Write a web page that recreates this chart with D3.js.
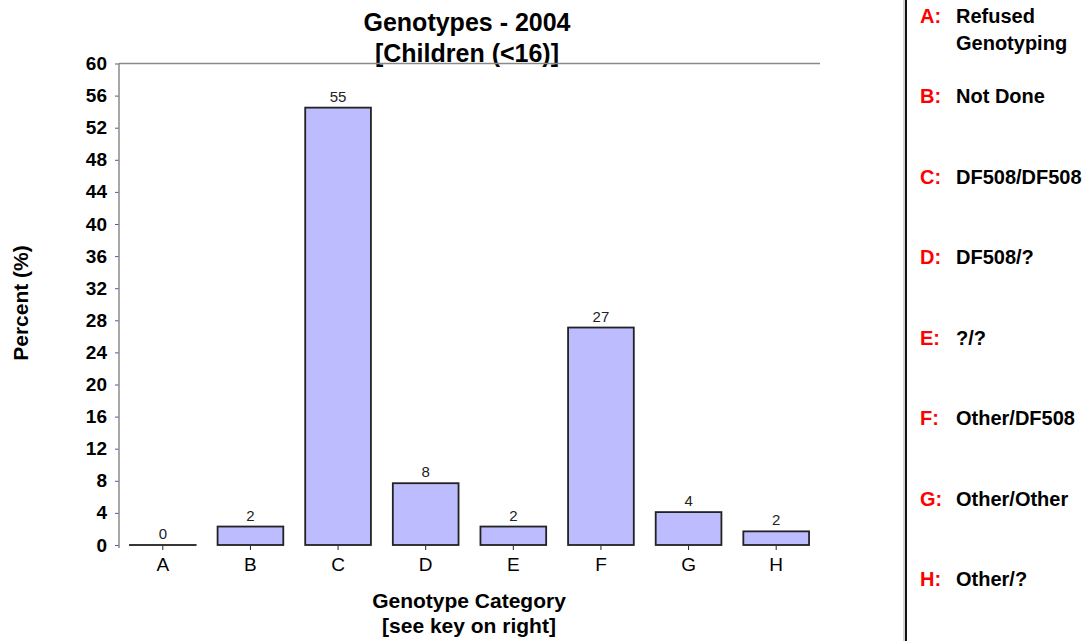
<!DOCTYPE html>
<html>
<head>
<meta charset="utf-8">
<script src="https://cdn.jsdelivr.net/npm/d3@7"></script>
<style>
  body { margin: 0; background: #fff; }
  svg { font-family: "Liberation Sans", Arial, sans-serif; }
</style>
</head>
<body>
<svg id="chart" width="1092" height="641"></svg>
<script>
const categories = ['A', 'B', 'C', 'D', 'E', 'F', 'G', 'H']
const percents = [0, 2.3, 54.5, 7.7, 2.3, 27.1, 4.1, 1.7]
const barLabels = ['0', '2', '55', '8', '2', '27', '4', '2']
const yTicks = [0, 4, 8, 12, 16, 20, 24, 28, 32, 36, 40, 44, 48, 52, 56, 60]
const keyText = [['Refused', 'Genotyping'], ['Not Done'], ['DF508/DF508'], ['DF508/?'],
                 ['?/?'], ['Other/DF508'], ['Other/Other'], ['Other/?']]

const svg = d3.select('#chart')
const plotLeft = 119, plotRight = 820, plotTop = 63.5, plotBottom = 545

const xScale = d3.scaleBand().domain(categories).range([plotLeft, plotRight])
    .paddingInner(0.25).paddingOuter(0.125)
const yScale = d3.scaleLinear().domain([0, 60]).range([plotBottom, plotTop])

// title
svg.append('text').attr('x', 467).attr('y', 31).attr('text-anchor', 'middle')
    .style('font-size', '25px').style('font-weight', 'bold').text('Genotypes - 2004')
svg.append('text').attr('x', 467).attr('y', 62).attr('text-anchor', 'middle')
    .style('font-size', '25px').style('font-weight', 'bold').text('[Children (<16)]')

// top frame line
svg.append('line').attr('x1', plotLeft).attr('x2', plotRight).attr('y1', plotTop).attr('y2', plotTop)
    .attr('stroke', '#8a8a8a').attr('stroke-width', 1.5)

// y axis
const yAxis = d3.axisLeft(yScale).tickValues(yTicks).tickSize(4).tickPadding(8)
const gy = svg.append('g').attr('transform', 'translate(' + plotLeft + ',0)').call(yAxis)
gy.select('.domain').remove()
gy.selectAll('.tick line').attr('stroke', '#5555aa')
gy.selectAll('.tick text').style('font-size', '19px').style('font-weight', 'bold')
    .attr('fill', '#000').attr('font-family', 'Liberation Sans, Arial')
svg.append('line').attr('x1', plotLeft).attr('x2', plotLeft).attr('y1', plotTop).attr('y2', plotBottom + 3)
    .attr('stroke', '#8a8a8a').attr('stroke-width', 1.5)

// bars (a zero bar still shows its outline as a flat line)
svg.selectAll('rect.bar')
    .data(categories)
    .enter()
    .append('rect')
    .attr('class', 'bar')
    .attr('x', d => xScale(d))
    .attr('width', xScale.bandwidth())
    .attr('y', (d, i) => yScale(percents[i]))
    .attr('height', (d, i) => Math.max(0.01, yScale(0) - yScale(percents[i])))
    .attr('fill', '#bcbcff')
    .attr('stroke', '#222')
    .attr('stroke-width', 1.8)

svg.selectAll('text.barlabel')
    .data(categories)
    .enter()
    .append('text')
    .attr('class', 'barlabel')
    .attr('x', d => xScale(d) + xScale.bandwidth() / 2)
    .attr('y', (d, i) => yScale(percents[i]) - 6)
    .attr('text-anchor', 'middle')
    .style('font-size', '15px')
    .attr('fill', '#222')
    .text((d, i) => barLabels[i])

// x axis
const xAxis = d3.axisBottom(xScale).tickSize(4).tickPadding(8)
const gx = svg.append('g').attr('transform', 'translate(0,' + (plotBottom + 1) + ')').call(xAxis)
gx.select('.domain').remove()
gx.selectAll('.tick line').attr('stroke', '#222')
gx.selectAll('.tick text').style('font-size', '19px').attr('fill', '#000')

// axis titles
svg.append('text').attr('x', 469).attr('y', 608).attr('text-anchor', 'middle')
    .style('font-size', '21px').style('font-weight', 'bold').text('Genotype Category')
svg.append('text').attr('x', 469).attr('y', 633).attr('text-anchor', 'middle')
    .style('font-size', '21px').style('font-weight', 'bold').text('[see key on right]')
svg.append('text').attr('transform', 'translate(28,303) rotate(-90)').attr('text-anchor', 'middle')
    .style('font-size', '21px').style('font-weight', 'bold').text('Percent (%)')

// key on right
svg.append('line').attr('x1', 904).attr('x2', 904).attr('y1', 0).attr('y2', 641)
    .attr('stroke', '#aaa').attr('stroke-width', 1)
svg.append('line').attr('x1', 906).attr('x2', 906).attr('y1', 0).attr('y2', 641)
    .attr('stroke', '#111').attr('stroke-width', 2)

const keyY = d3.scalePoint().domain(categories).range([23, 586])
const key = svg.selectAll('g.key')
    .data(categories)
    .enter()
    .append('g')
    .attr('class', 'key')
    .attr('transform', d => 'translate(0,' + keyY(d) + ')')
key.append('text').attr('x', 920).attr('fill', '#ff0000')
    .style('font-size', '20px').style('font-weight', 'bold').text(d => d + ':')
key.append('text').attr('x', 956).attr('fill', '#000')
    .style('font-size', '20px').style('font-weight', 'bold')
    .selectAll('tspan')
    .data((d, i) => keyText[i])
    .enter()
    .append('tspan')
    .attr('x', 956)
    .attr('dy', (t, j) => j === 0 ? 0 : 26.5)
    .text(t => t)
</script>
</body>
</html>
